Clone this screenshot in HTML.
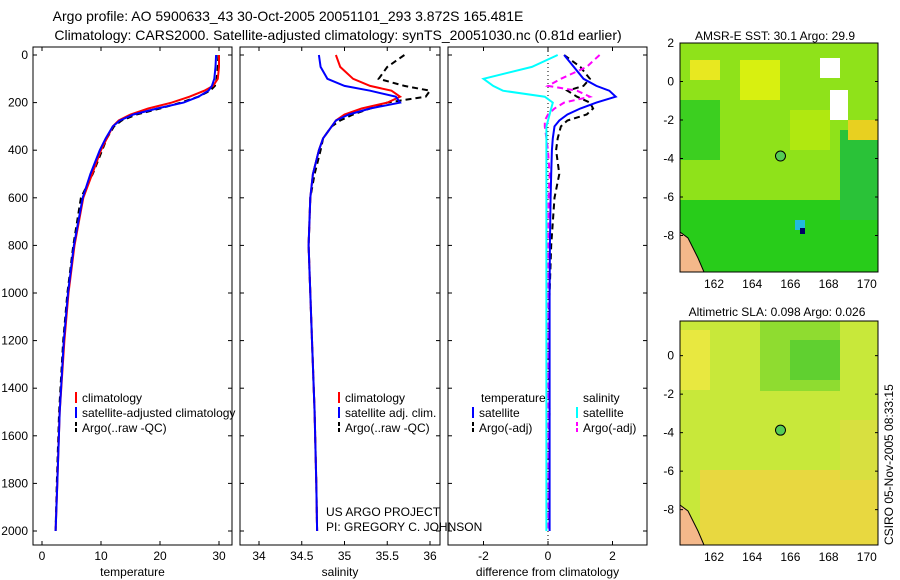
<!DOCTYPE html>
<html><head><meta charset="utf-8"><style>
body{margin:0;background:#fff;}
svg{display:block;font-family:"Liberation Sans",sans-serif;}
text{font-size:12px;fill:#000;}
.ttl{font-size:14px;}
</style></head><body>
<svg id="s" width="900" height="580">
<text class="ttl" x="288" y="21" text-anchor="middle">Argo profile: AO 5900633_43 30-Oct-2005 20051101_293 3.872S 165.481E</text>
<text class="ttl" x="338" y="40" text-anchor="middle">Climatology: CARS2000. Satellite-adjusted climatology: synTS_20051030.nc (0.81d earlier)</text>
<text x="775" y="40" text-anchor="middle">AMSR-E SST: 30.1 Argo: 29.9</text>
<text x="777" y="316" text-anchor="middle">Altimetric SLA: 0.098 Argo: 0.026</text>
<text transform="translate(893,545) rotate(-90)">CSIRO 05-Nov-2005 08:33:15</text>
<text x="326" y="516">US ARGO PROJECT</text>
<text x="326" y="531">PI: GREGORY C. JOHNSON</text>
<g id="plots"></g>
</svg>
<script>
const depthsT=[0,50,100,130,150,175,200,225,250,275,300,350,400,500,600,800,1000,1200,1500,1800,2000];
const tempClim=[30,30,29.8,29,27.5,25,22,18,15,13,12,11,10,8.5,7,5.5,4.5,3.8,3,2.6,2.3];
const tempSat=[29.5,29.4,29.2,28.8,28.2,26.5,24,19.5,15.5,13.2,12,10.8,9.8,8.2,6.9,5.4,4.4,3.7,3,2.6,2.3];
const tempArgo=[29.9,29.8,29.6,29.3,28.5,26.5,23.5,20,16,13.5,12.2,11,10.2,8.6,6.6,5.3,4.3,3.6,2.9,2.5,2.3];
const salClim=[34.9,34.95,35.1,35.3,35.55,35.65,35.5,35.2,35.0,34.9,34.85,34.75,34.7,34.63,34.6,34.58,34.6,34.62,34.65,34.67,34.68];
const salSat=[34.7,34.72,34.8,35.0,35.3,35.6,35.65,35.3,35.05,34.9,34.85,34.75,34.7,34.63,34.6,34.58,34.6,34.62,34.65,34.67,34.68];
const salArgo=[35.7,35.5,35.4,35.7,36.0,35.95,35.5,35.3,35.1,34.95,34.85,34.75,34.72,34.65,34.6,34.58,34.6,34.62,34.65,34.67,34.68];
const dTempSat=[0.5,0.8,1.1,1.5,1.9,2.1,1.5,1.0,0.6,0.35,0.2,0.15,0.12,0.1,0.08,0.06,0.05,0.05,0.05,0.05,0.05];
const dTempArgo=[0.5,1.0,1.3,1.1,0.6,0.9,1.3,1.4,1.2,0.6,0.4,0.3,0.25,0.35,0.2,0.1,0.05,0.0,0.05,0.0,0.05];
const dSalSat=[0.3,-0.5,-2.0,-1.7,-1.4,-0.1,0.15,0.1,0.05,0.0,-0.05,-0.05,-0.05,-0.05,-0.05,-0.05,-0.05,-0.05,-0.05,-0.05,-0.05];
const dSalArgo=[1.6,1.2,0.4,0.0,0.9,1.3,0.5,0.2,0.0,-0.1,-0.1,-0.05,0.0,0.05,0.02,0.0,0.0,0.0,0.0,0.0,0.0];
const depthTicks=[0,200,400,600,800,1000,1200,1400,1600,1800,2000];
const tTicks=[0,10,20,30], sTicks=[34,34.5,35,35.5,36], dTicks=[-2,0,2];
const NS="http://www.w3.org/2000/svg";
const g=document.getElementById('plots');
function el(t,a,p){const e=document.createElementNS(NS,t);for(const k in a)e.setAttribute(k,a[k]);(p||g).appendChild(e);return e;}
const yS=d=>55+d*0.238;
function panel(name,x0,x1,xs,ticks,label,fmt){
  const f=el('rect',{x:x0,y:47,width:x1-x0,height:498,fill:'none',stroke:'#000'});
  
  
  ticks.forEach(v=>{const x=xs(v);
    el('line',{x1:x,x2:x,y1:47,y2:51,stroke:'#000'});el('line',{x1:x,x2:x,y1:545,y2:541,stroke:'#000'});
    const t=el('text',{x:x,y:560,'text-anchor':'middle'});t.textContent=fmt?fmt(v):v;
    
    });
  depthTicks.forEach(d=>{const y=yS(d);el('line',{x1:x0,x2:x0+4,y1:y,y2:y,stroke:'#000'});el('line',{x1:x1,x2:x1-4,y1:y,y2:y,stroke:'#000'});});
  const l=el('text',{x:(x0+x1)/2,y:576,'text-anchor':'middle'});l.textContent=label;
  
  
}
function line(name,xs,vals,color,dash,w){
  const pts=vals.map((v,i)=>xs(v).toFixed(1)+','+yS(depthsT[i]).toFixed(1)).join(' ');
  const p=el('polyline',{points:pts,fill:'none',stroke:color,'stroke-width':w||2,'stroke-dasharray':dash||'none'});
  
  
}
depthTicks.forEach(d=>{const t=el('text',{x:28,y:yS(d)+4,'text-anchor':'end'});t.textContent=d;
  
  });
const xT=v=>42+v*5.9, xSal=v=>259+(v-34)*85.5, xD=v=>548+v*32.25;
panel('temperature-panel',33,232,xT,tTicks,'temperature');
panel('salinity-panel',240,440,xSal,sTicks,'salinity');
panel('difference-panel',448,647,xD,dTicks,'difference from climatology');
el('line',{x1:xD(0),x2:xD(0),y1:47,y2:545,stroke:'#000','stroke-dasharray':'1,3'});
line('temp-argo',xT,tempArgo,'#000','6,4');
line('temp-climatology',xT,tempClim,'#f00');
line('temp-satellite',xT,tempSat,'#00f');
line('sal-argo',xSal,salArgo,'#000','6,4');
line('sal-climatology',xSal,salClim,'#f00');
line('sal-satellite',xSal,salSat,'#00f');
line('diff-temp-argo',xD,dTempArgo,'#000','6,4');
line('diff-sal-argo',xD,dSalArgo,'#f0f','6,4');
line('diff-sal-satellite',xD,dSalSat,'#0ff');
line('diff-temp-satellite',xD,dTempSat,'#00f');
function legend(name,x,y,items){items.forEach((it,i)=>{const yy=y+i*15;
  el('line',{x1:x,x2:x,y1:yy-10,y2:yy+1,stroke:it[1],'stroke-width':2,'stroke-dasharray':it[2]||'none'});
  const t=el('text',{x:x+6,y:yy});t.textContent=it[0];
  
  });}
legend('temp-legend',76,402,[['climatology','#f00'],['satellite-adjusted climatology','#00f'],['Argo(..raw -QC)','#000','4,2']]);
legend('sal-legend',339,402,[['climatology','#f00'],['satellite adj. clim.','#00f'],['Argo(..raw -QC)','#000','4,2']]);
const t1=el('text',{x:481,y:402});t1.textContent='temperature';
const t2=el('text',{x:583,y:402});t2.textContent='salinity';
legend('diff-temp-legend',473,417,[['satellite','#00f'],['Argo(-adj)','#000','4,2']]);
legend('diff-sal-legend',577,417,[['satellite','#0ff'],['Argo(-adj)','#f0f','4,2']]);
function map(name,y0,y1,lat0,latTicks,patches){
  const x0=680,x1=878;
  const r=el('rect',{x:x0,y:y0,width:x1-x0,height:y1-y0,fill:patches.bg});
  
  
  patches.p.forEach(p=>el('rect',{x:p[0],y:p[1],width:p[2],height:p[3],fill:p[4]}));
  el('path',{d:`M${x0},${y1-40} l8,6 l10,20 l6,14 L${x0},${y1} Z`,fill:'#f4b88a',stroke:'#000'});
  el('circle',{cx:xLon(165.481),cy:y0+(lat0+3.872)*19.25,r:5,fill:'#5c5',stroke:'#000'});
  el('rect',{x:x0,y:y0,width:x1-x0,height:y1-y0,fill:'none',stroke:'#000'});
  [162,164,166,168,170].forEach(v=>{const t=el('text',{x:xLon(v),y:y1+16,'text-anchor':'middle'});t.textContent=v;
    
    });
  latTicks.forEach(v=>{const y=y0+(lat0-v)*19.25;const t=el('text',{x:x0-6,y:y+4,'text-anchor':'end'});t.textContent=v;
    
    
    el('line',{x1:x0,x2:x0+3,y1:y,y2:y,stroke:'#000'});el('line',{x1:x1,x2:x1-3,y1:y,y2:y,stroke:'#000'});});
}
function xLon(v){return 714+(v-162)*19.1;}
map('sst-map',43,272,2,[2,0,-2,-4,-6,-8],{bg:'#8fe21a',p:[[680,200,198,72,'#28cc1a'],[680,100,40,60,'#3ccf20'],[840,130,38,90,'#2ac238'],[740,60,40,40,'#d8f010'],[790,110,40,40,'#b0e810'],[820,58,20,20,'#fff'],[830,90,18,30,'#fff'],[690,60,30,20,'#e8e820'],[848,120,30,20,'#e8d020'],[795,220,10,10,'#2bd'],[800,228,5,6,'#006']]});
map('sla-map',321,545,1.8,[0,-2,-4,-6,-8],{bg:'#c8e83a',p:[[760,321,80,70,'#8fdc30'],[790,340,50,40,'#60d030'],[680,330,30,60,'#e8e840'],[700,470,178,75,'#e8d840'],[840,420,38,60,'#d8e040']]});
</script>
</body></html>
